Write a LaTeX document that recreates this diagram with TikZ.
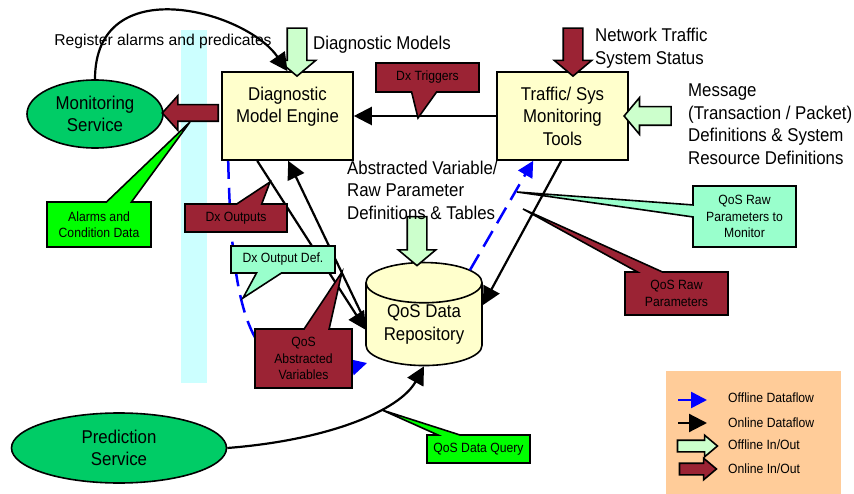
\documentclass[tikz,border=0pt]{standalone}
\usepackage{fontspec}
\setmainfont{Liberation Sans}[FakeStretch=0.91]
\newfontfamily\regfont{Liberation Sans}
\usetikzlibrary{arrows.meta,shapes.geometric,shapes.arrows,shapes.callouts}
\definecolor{dxred}{RGB}{155,35,52}
\definecolor{offgreen}{RGB}{204,255,204}
\definecolor{mintgreen}{RGB}{153,255,204}
\definecolor{limegreen}{RGB}{0,255,0}
\definecolor{svcgreen}{RGB}{0,204,102}
\definecolor{boxyellow}{RGB}{255,255,204}
\definecolor{palecyan}{RGB}{204,255,255}
\definecolor{legendtan}{RGB}{255,204,153}
\definecolor{dashblue}{RGB}{0,0,255}
\newcommand\bigtxt{\fontsize{18.5}{22.5}\selectfont}
\newcommand\smalltxt{\fontsize{13.4}{16.5}\selectfont}
\tikzset{
  engine/.style={draw, line width=1.6pt, fill=boxyellow, minimum width=131pt, minimum height=88pt, align=center, font=\bigtxt, inner sep=0pt},
  service/.style={ellipse, draw, line width=1.6pt, fill=svcgreen, align=center, font=\bigtxt, inner sep=0pt},
  note/.style={rectangle callout, draw, line width=1.6pt, align=center, font=\smalltxt, inner sep=0pt, callout pointer width=25pt},
  plaintext/.style={align=left, font=\bigtxt, inner sep=0pt},
  online/.style={line width=2.2pt, -{Triangle[length=18pt,width=18pt]}},
  offline/.style={line width=2.5pt, dashblue, dash pattern=on 18pt off 9pt, -{Triangle[length=16pt,width=16pt]}},
  inout/.style={single arrow, draw, line width=1.6pt, inner sep=9pt, single arrow head extend=9pt, single arrow tip angle=100}
}

\begin{document}
\begin{tikzpicture}[x=1pt,y=-1pt]
  \useasboundingbox (0,0) rectangle (854,494);

  % column behind the services
  \fill[palecyan] (181,30) rectangle (207,383);

  % services, engines, repository
  \node[service, minimum width=136pt, minimum height=68pt] (mon) at (95,114) {Monitoring\\Service};
  \node[service, minimum width=215pt, minimum height=70pt] (pred) at (119,448) {Prediction\\Service};

  \node[inout, fill=dxred, shape border rotate=180, inner sep=7.5pt, minimum height=56pt,
        single arrow head extend=9pt, single arrow tip angle=96] (alarmout) at (194,113) {};

  \node[engine] (dme) at (287.5,116) {Diagnostic\\Model Engine\\~};
  \node[engine] (tools) at (562.5,116) {Traffic/ Sys\\Monitoring\\Tools};
  \node[cylinder, shape border rotate=90, draw, line width=1.6pt, fill=boxyellow, aspect=0.5,
        minimum width=116pt, minimum height=103pt, align=center, font=\bigtxt, inner sep=0pt] (repo) at (424,324.5) {QoS Data\\Repository};

  % in/out block arrows
  \node[inout, fill=offgreen, shape border rotate=270, minimum height=48pt] (dmin) at (297,48) {};
  \node[inout, fill=dxred, shape border rotate=270, minimum height=48pt] (trafin) at (573,48) {};
  \node[inout, fill=offgreen, shape border rotate=180, inner sep=8.5pt, minimum height=47pt] (msgin) at (651.5,116) {};
  \node[inout, fill=offgreen, shape border rotate=270, minimum height=49pt] (defin) at (417,237) {};

  % texts
  \node[font=\regfont\fontsize{15.7}{19}\selectfont, inner sep=0pt] (reg) at (163,41) {Register alarms and predicates};
  \node[plaintext, anchor=west] (dmtext) at (313,45) {Diagnostic Models};
  \node[plaintext, anchor=west] (traftext) at (595,48) {Network Traffic\\System Status};
  \node[plaintext, anchor=west] (msgtext) at (688,124) {Message\\(Transaction / Packet)\\Definitions \& System\\Resource Definitions};
  \node[plaintext, anchor=west] (deftext) at (347,190) {Abstracted Variable/\\Raw Parameter\\Definitions \& Tables};

  % dataflows
  \coordinate (dmeout) at ([xshift=36pt]dme.south west);
  \coordinate (dmein) at ([xshift=67pt]dme.south west);
  \coordinate (dmedash) at ([xshift=7pt]dme.south west);
  \coordinate (toolsout) at ([xshift=65pt]tools.south west);
  \coordinate (toolsin) at ([xshift=37pt]tools.south west);
  \coordinate (repoleft) at (366,330);
  \coordinate (repoup) at (364,319);
  \coordinate (reporight) at (483,305);
  \coordinate (repotop) at (470,270);
  \coordinate (repocorner) at (367,363);

  \draw[line width=2.2pt, -{Triangle[length=18pt,width=18pt]}] (mon.north) .. controls (95,-30) and (245,10) .. (dme.north);
  \draw[online] (tools) -- (dme);
  \draw[online] (dmeout) -- (repoleft);
  \draw[online] (repoup) -- (dmein);
  \draw[online] (toolsout) -- (reporight);
  \draw[offline] (repotop) -- (toolsin);
  \draw[offline] (dmedash) .. controls (232,320) and (250,395) .. (repocorner);
  \draw[online] (pred.east) .. controls (330,440) and (400,410) .. (repo.south);

  % callouts
  \node[note, fill=dxred, minimum width=103pt, minimum height=29pt, callout absolute pointer={(418,118)}] (dxtrig) at (427.5,77.5) {Dx Triggers};
  \node[note, fill=limegreen, minimum width=104pt, minimum height=45pt, callout absolute pointer={(190,122)}] (alarms) at (99,224.5) {Alarms and\\Condition Data};
  \node[note, fill=dxred, minimum width=102pt, minimum height=28pt, callout absolute pointer={(270,182)}] (dxout) at (236,218) {Dx Outputs};
  \node[note, fill=mintgreen, minimum width=104pt, minimum height=27pt, callout absolute pointer={(243,298)}] (dxdef) at (283,259.5) {Dx Output Def.};
  \node[note, fill=dxred, minimum width=97pt, minimum height=59pt, callout absolute pointer={(342,272)}] (qosabs) at (303.5,358.5) {QoS\\Abstracted\\Variables};
  \node[note, fill=mintgreen, minimum width=103pt, minimum height=61pt, callout pointer width=12pt, callout absolute pointer={(517,192)}] (rawmon) at (744.5,216.5) {QoS Raw\\Parameters to\\Monitor};
  \node[note, fill=dxred, minimum width=103pt, minimum height=43pt, callout absolute pointer={(523,209)}] (rawpar) at (676.5,293.5) {QoS Raw\\Parameters};
  \node[note, fill=limegreen, minimum width=103pt, minimum height=28pt, callout pointer width=22pt, callout absolute pointer={(382,410)}] (query) at (478.5,449) {QoS Data Query};

  % legend
  \fill[legendtan] (666,371) rectangle (841,494);
  \draw[offline, solid] (678,400) -- (707,400);
  \draw[online] (678,423) -- (707,423);
  \node[inout, fill=offgreen, inner sep=5pt, minimum height=40pt, single arrow head extend=5pt, single arrow tip angle=80] (keyoff) at (694,446) {};
  \node[inout, fill=dxred, inner sep=5pt, minimum height=37pt, single arrow head extend=5pt, single arrow tip angle=80] (keyon) at (694.5,469) {};
  \node[font=\smalltxt, anchor=west, inner sep=0pt] (keytxt1) at (728,398) {Offline Dataflow};
  \node[font=\smalltxt, anchor=west, inner sep=0pt] (keytxt2) at (728,423) {Online Dataflow};
  \node[font=\smalltxt, anchor=west, inner sep=0pt] (keytxt3) at (728,445) {Offline In/Out};
  \node[font=\smalltxt, anchor=west, inner sep=0pt] (keytxt4) at (728,469) {Online In/Out};
\end{tikzpicture}
\end{document}
